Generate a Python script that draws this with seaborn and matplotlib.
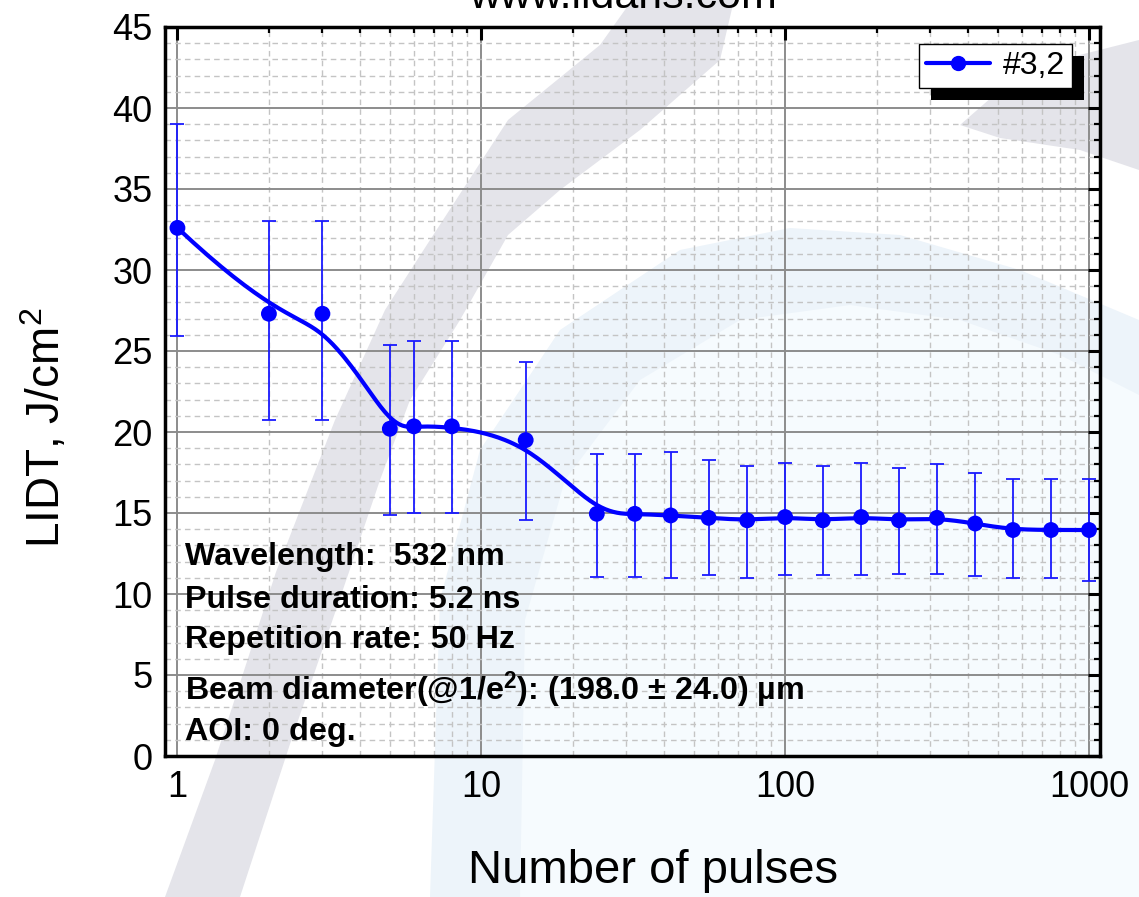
import numpy as np
import pandas as pd
import matplotlib
matplotlib.use("Agg")
import matplotlib.pyplot as plt
import seaborn as sns
from matplotlib.lines import Line2D
from matplotlib.patches import Polygon, Rectangle
from matplotlib.ticker import LogLocator, MultipleLocator, NullFormatter

# LIDT vs number of pulses
pulses = [1, 2, 3, 5, 6, 8, 14, 24, 32, 42, 56, 75, 100, 133, 178, 237, 316, 422, 562, 750, 1000]
lidt = [32.6, 27.3, 27.3, 20.2, 20.35, 20.35, 19.5, 14.95, 14.95, 14.85, 14.7, 14.55, 14.75, 14.55,
        14.75, 14.55, 14.7, 14.35, 13.95, 13.95, 13.95]
err_upper = [39.0, 33.05, 33.05, 25.4, 25.6, 25.6, 24.35, 18.65, 18.65, 18.75, 18.25, 17.9, 18.1, 17.9,
             18.1, 17.8, 18.0, 17.45, 17.1, 17.1, 17.1]
err_lower = [25.95, 20.75, 20.75, 14.9, 15.0, 15.0, 14.55, 11.05, 11.05, 11.0, 11.2, 11.0, 11.2, 11.2,
             11.2, 11.25, 11.25, 11.1, 11.0, 11.0, 10.8]
series_label = "#3,2"
x_ticks = [1, 10, 100, 1000]
x_tick_labels = ["1", "10", "100", "1000"]
y_ticks = [0, 5, 10, 15, 20, 25, 30, 35, 40, 45]
info_lines = [
    "Wavelength:  532 nm",
    "Pulse duration: 5.2 ns",
    "Repetition rate: 50 Hz",
    r"Beam diameter(@1/e$^{\mathbf{2}}$): (198.0 ± 24.0) µm",
    "AOI: 0 deg.",
]

df = pd.DataFrame({"pulses": pulses, "lidt": lidt, "lo": err_lower, "hi": err_upper})


# smooth connecting line: clamped cubic B-spline with the points as control points (log x)
def bspline(cx, cy, samples=600, k=3):
    n = len(cx)
    knots = np.concatenate([np.zeros(k), np.arange(n - k + 1), np.full(k, n - k)]).astype(float)
    t = np.linspace(0, n - k, samples)
    t[-1] -= 1e-9
    N = np.array([((knots[i] <= t) & (t < knots[i + 1])).astype(float) for i in range(len(knots) - 1)])
    for p in range(1, k + 1):
        newN = np.zeros((len(knots) - 1 - p, samples))
        for i in range(len(knots) - 1 - p):
            d1 = knots[i + p] - knots[i]
            d2 = knots[i + p + 1] - knots[i + 1]
            a = (t - knots[i]) / d1 * N[i] if d1 > 0 else 0
            b = (knots[i + p + 1] - t) / d2 * N[i + 1] if d2 > 0 else 0
            newN[i] = a + b
        N = newN
    return N.T @ np.asarray(cx), N.T @ np.asarray(cy)


sx, sy = bspline(np.log10(df["pulses"]), df["lidt"])
curve = pd.DataFrame({"x": 10 ** sx, "y": sy})

sns.set_style("white")
plt.rcParams["font.family"] = ["Liberation Sans", "DejaVu Sans"]
plt.rcParams["mathtext.fontset"] = "custom"
plt.rcParams["mathtext.rm"] = "Liberation Sans"
plt.rcParams["mathtext.bf"] = "Liberation Sans:bold"
plt.rcParams["mathtext.it"] = "Liberation Sans:italic"
plt.rcParams["text.color"] = "black"
plt.rcParams["axes.labelcolor"] = "black"
plt.rcParams["xtick.color"] = "black"
plt.rcParams["ytick.color"] = "black"

W, H = 1139, 897
fig = plt.figure(figsize=(W / 100, H / 100), dpi=100)

# faint logo watermark in the background
bg = fig.add_axes([0, 0, 1, 1], zorder=-10)
bg.set_xlim(0, W)
bg.set_ylim(H, 0)
bg.axis("off")
bg.add_patch(Polygon([(430, 897), (440, 600), (480, 450), (560, 330), (680, 250), (790, 228),
                      (900, 235), (1020, 270), (1139, 320), (1139, 897)], closed=True,
                     facecolor="#edf4fa", edgecolor="none"))
bg.add_patch(Polygon([(520, 897), (525, 620), (565, 480), (640, 380), (740, 320), (850, 305),
                      (960, 320), (1060, 355), (1139, 395), (1139, 897)], closed=True,
                     facecolor="#f6fbfe", edgecolor="none"))
bg.add_patch(Polygon([(165, 897), (215, 760), (276, 572), (335, 420), (385, 310), (430, 240),
                      (508, 120), (600, 45), (632, 0), (734, 0), (720, 60), (640, 130), (560, 190),
                      (508, 235), (460, 320), (410, 400), (380, 480), (349, 572), (290, 744),
                      (240, 897)], closed=True, facecolor="#e4e4ea", edgecolor="none"))
bg.add_patch(Polygon([(960, 125), (1000, 90), (1060, 60), (1139, 40), (1139, 170), (1080, 150),
                      (1000, 138)], closed=True, facecolor="#e4e4ea", edgecolor="none"))

ax = fig.add_axes([165 / W, 1 - 756 / H, (1100 - 165) / W, (756 - 27) / H])
ax.set_facecolor("none")
ax.set_xscale("log")
ax.set_xlim(0.91, 1087)
ax.set_ylim(0, 45)

ax.errorbar(df["pulses"], df["lidt"], yerr=[df["lidt"] - df["lo"], df["hi"] - df["lidt"]],
            fmt="none", ecolor="#1a1aff", elinewidth=1.3, capsize=4.7, capthick=1.3, zorder=3)
sns.lineplot(data=curve, x="x", y="y", sort=False, estimator=None, color="#0000ff",
             lw=3, legend=False, ax=ax, zorder=4)
sns.scatterplot(data=df, x="pulses", y="lidt", color="#0000ff", s=130, edgecolor="none",
                legend=False, ax=ax, zorder=5)

ax.set_xticks(x_ticks)
ax.set_xticklabels(x_tick_labels)
ax.xaxis.set_minor_locator(LogLocator(base=10, subs=np.arange(2, 10), numticks=20))
ax.xaxis.set_minor_formatter(NullFormatter())
ax.set_yticks(y_ticks)
ax.yaxis.set_minor_locator(MultipleLocator(1))

ax.grid(which="major", color="#8c8c8c", lw=1.4, ls="-")
ax.grid(which="minor", color="#c4c4c4", lw=1.0, ls=(0, (4, 3)))
ax.set_axisbelow(True)

ax.tick_params(which="both", direction="in", top=True, right=True, colors="black")
ax.tick_params(which="major", length=9, width=2.2, labelsize=26)
ax.tick_params(which="minor", length=4.5, width=1.6)
ax.tick_params(axis="x", which="major", pad=10)
ax.tick_params(axis="y", which="major", pad=9)
for sp in ax.spines.values():
    sp.set_color("black")
    sp.set_linewidth(2.5)

ax.set_xlabel("Number of pulses", fontsize=34, color="black")
ax.xaxis.set_label_coords(0.522, -0.128)
ax.set_ylabel("LIDT, J/cm$^2$", fontsize=33, color="black")
ax.yaxis.set_label_coords(-0.102, 0.45)

fig.text(623 / W, 1 - 8 / H, "www.lidaris.com", ha="center", va="baseline", fontsize=31,
         color="black")

info_y = [0.273, 0.214, 0.159, 0.090, 0.033]
for line, yy in zip(info_lines, info_y):
    ax.text(0.021, yy, line, transform=ax.transAxes, fontsize=23.2, fontweight="bold",
            color="black", ha="left", va="center", zorder=6)

handle = Line2D([], [], color="#0000ff", lw=3, marker="o", markersize=10)
leg = ax.legend([handle], [series_label], loc="upper right", bbox_to_anchor=(0.970, 0.977),
                borderaxespad=0, fancybox=False, frameon=True, fontsize=23, handlelength=2.0,
                handletextpad=0.4, borderpad=0.22)
leg.get_frame().set_edgecolor("black")
leg.get_frame().set_linewidth(1.0)
leg.get_frame().set_alpha(1)
leg.set_zorder(8)
for txt in leg.get_texts():
    txt.set_color("black")

fig.canvas.draw()
bb = leg.get_window_extent()
shadow = Rectangle((bb.x0 + 12, bb.y0 - 12), bb.width, bb.height, transform=None,
                   facecolor="black", edgecolor="none", zorder=7.5, clip_on=False)
ax.add_artist(shadow)

fig.savefig("out.png", dpi=100)
